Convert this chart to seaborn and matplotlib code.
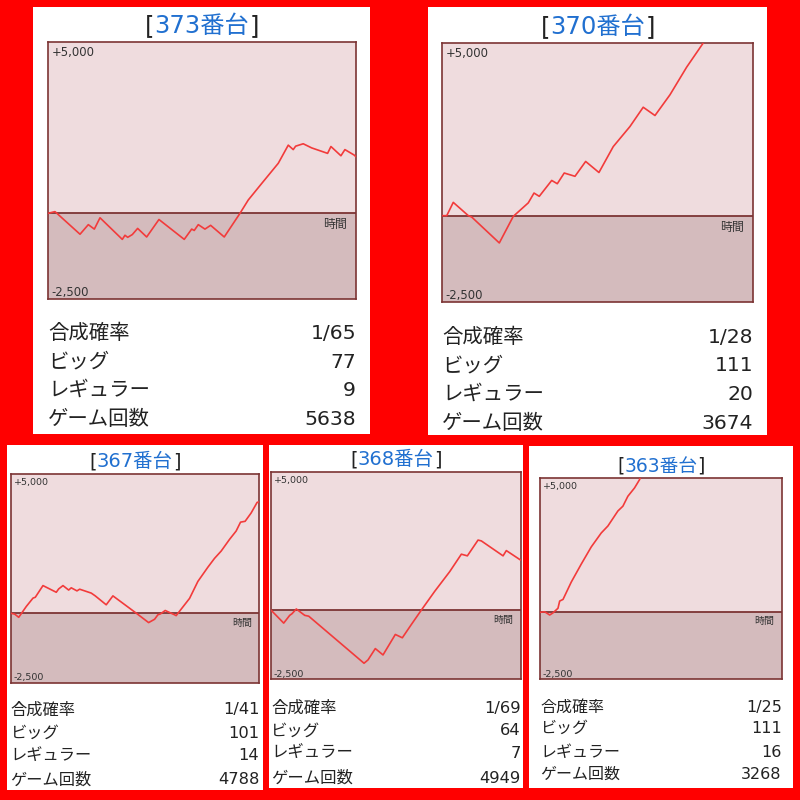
import matplotlib
matplotlib.use("Agg")
import matplotlib.pyplot as plt
import seaborn as sns
import pandas as pd

sns.set_theme(style="white")
plt.rcParams['font.family'] = ['DejaVu Sans', 'Noto Sans CJK JP']

# ---------------- data ----------------
machines = ["373", "370", "367", "368", "363"]
games = [5638, 3674, 4788, 4949, 3268]

g373 = [0, 128, 586, 738, 848, 952, 1360, 1409, 1459, 1543, 1641, 1806, 2031, 2494, 2630, 2677,
        2751, 2873, 2977, 3226, 3514, 3666, 3911, 4215, 4398, 4489, 4533, 4672, 4826, 5118, 5179,
        5362, 5435, 5605, 5638]
v373 = [0, 50, -610, -330, -460, -130, -760, -640, -700, -620, -440, -690, -180, -760, -460, -500,
        -330, -460, -350, -690, 0, 390, 870, 1460, 1990, 1860, 1960, 2030, 1910, 1750, 1950,
        1680, 1860, 1700, 1650]

g370 = [0, 56, 133, 311, 351, 677, 842, 1019, 1087, 1149, 1296, 1362, 1444, 1571, 1697, 1854,
        2023, 2220, 2377, 2516, 2693, 2890, 3086, 3130]
v370 = [0, 0, 385, 0, -40, -790, -20, 370, 655, 560, 1020, 925, 1235, 1140, 1570, 1250,
        2000, 2580, 3140, 2900, 3500, 4300, 5000, 5200]

g367 = [0, 81, 158, 304, 433, 477, 625, 881, 927, 1010, 1119, 1169, 1279, 1331, 1554, 1631,
        1842, 1971, 2419, 2658, 2773, 2836, 2888, 2977, 3158, 3188, 3285, 3446, 3606, 3798,
        3927, 4054, 4215, 4342, 4427, 4515, 4631, 4746, 4788]
v367 = [0, -36, -150, 240, 540, 570, 990, 750, 870, 990, 830, 910, 800, 860, 720, 620,
        300, 620, 0, -340, -220, -60, -25, 95, -60, -90, 145, 530, 1140, 1650,
        1970, 2230, 2650, 2950, 3270, 3300, 3600, 3980, 4000]

g368 = [0, 252, 371, 417, 502, 669, 748, 1845, 1924, 2069, 2222, 2466, 2605, 2784, 2982, 3248,
        3545, 3776, 3895, 4107, 4172, 4603, 4668, 4949]
v368 = [0, -470, -190, -130, 40, -190, -220, -1920, -1800, -1390, -1620, -880, -1000, -520, 0, 680,
        1390, 2020, 1960, 2530, 2500, 1960, 2150, 1810]

g363 = [0, 63, 131, 176, 243, 266, 311, 423, 558, 693, 828, 918, 1053, 1121, 1188, 1278, 1346, 1380]
v363 = [0, 20, -100, -20, 150, 420, 480, 1130, 1800, 2440, 2960, 3220, 3780, 3960, 4330, 4640, 4950, 5200]

stat_labels = ["合成確率", "ビッグ", "レギュラー", "ゲーム回数"]
stats373 = ["1/65", "77", "9", "5638"]
stats370 = ["1/28", "111", "20", "3674"]
stats367 = ["1/41", "101", "14", "4788"]
stats368 = ["1/69", "64", "7", "4949"]
stats363 = ["1/25", "111", "16", "3268"]

series_g = [g373, g370, g367, g368, g363]
series_v = [v373, v370, v367, v368, v363]
stats = [stats373, stats370, stats367, stats368, stats363]

# ---------------- layout (pixels, y from top) ----------------
W = H = 800
layout = [
    dict(card=(33, 7, 370, 434), plot=(48, 42, 356, 299), title=(202, 33.3), tsize=17.5,
         rows=[331.7, 360, 388, 417], ssize=14.7, lsize=8.4, jsize=8.6),
    dict(card=(428, 7, 767, 435), plot=(442, 43, 753, 302), title=(598, 34.3), tsize=17.5,
         rows=[335, 363.5, 392, 421.5], ssize=14.7, lsize=8.4, jsize=8.6),
    dict(card=(7, 445, 263, 790), plot=(10.5, 474, 259.3, 682.7), title=(135, 467.3), tsize=14,
         rows=[708.3, 731.7, 754.3, 778.3], ssize=11.7, lsize=6.8, jsize=7.2),
    dict(card=(269, 445, 523, 788), plot=(271, 471.7, 520.5, 679.3), title=(396, 465), tsize=14,
         rows=[706.7, 729.3, 751.7, 776.7], ssize=11.8, lsize=6.8, jsize=7.2),
    dict(card=(529, 446, 793, 788), plot=(540, 478.3, 781.7, 679.3), title=(661, 471.7), tsize=13.5,
         rows=[705.7, 727.3, 750.7, 773.3], ssize=11.5, lsize=6.8, jsize=7.2),
]

UPPER = "#efdcde"
LOWER = "#d4bbbd"
BORDER = "#7c3434"
LINE = "#f23b3b"
BLUE = "#2170d0"
DARK = "#222222"
LBL = "#333333"


def rect(l, t, r, b):
    return [l / W, 1 - b / H, (r - l) / W, (b - t) / H]


def pt2px(pt):
    return pt * 100 / 72.0


fig = plt.figure(figsize=(8, 8), dpi=100, facecolor="#ff0000")

for i, lay in enumerate(layout):
    # white card
    axc = fig.add_axes(rect(*lay["card"]))
    axc.set_facecolor("white")
    axc.set_xticks([])
    axc.set_yticks([])
    for s in axc.spines.values():
        s.set_visible(False)

    # title: "[" + blue number + "]"
    tx, ty = lay["title"]
    t_mid = fig.text(tx / W, 1 - ty / H, f"{machines[i]}番台", color=BLUE,
                     fontsize=lay["tsize"], ha="center", va="baseline")
    axc.annotate("[", xy=(0, 0), xycoords=t_mid, ha="right", va="bottom",
                 color=DARK, fontsize=lay["tsize"])
    axc.annotate("]", xy=(1, 0), xycoords=t_mid, ha="left", va="bottom",
                 color=DARK, fontsize=lay["tsize"])

    # stats rows
    pl, pt, pr, pb = lay["plot"]
    off = 0.37 * pt2px(lay["ssize"])
    for lab, val, yrow in zip(stat_labels, stats[i], lay["rows"]):
        yb = 1 - (yrow + off) / H
        fig.text(pl / W, yb, lab, ha="left", va="baseline",
                 fontsize=lay["ssize"], color=DARK)
        fig.text(pr / W, yb, val, ha="right", va="baseline",
                 fontsize=lay["ssize"], color=DARK)

    # plot
    ax = fig.add_axes(rect(*lay["plot"]))
    ax.axhspan(0, 5000, color=UPPER, zorder=0, lw=0)
    ax.axhspan(-2500, 0, color=LOWER, zorder=0, lw=0)
    ax.axhline(0, color=BORDER, lw=1.3, zorder=1)
    df = pd.DataFrame({"game": series_g[i], "medal": series_v[i]})
    sns.lineplot(data=df, x="game", y="medal", ax=ax, color=LINE, lw=1.2,
                 sort=False, estimator=None, zorder=3)
    ax.set_xlim(0, games[i])
    ax.set_ylim(-2500, 5000)
    ax.set_xticks([])
    ax.set_yticks([])
    ax.set_xlabel("")
    ax.set_ylabel("")
    for s in ax.spines.values():
        s.set_color(BORDER)
        s.set_linewidth(1.2)
        s.set_visible(True)
    ax.text(0.012, 0.958, "+5,000", transform=ax.transAxes, ha="left", va="center",
            fontsize=lay["lsize"], color=LBL)
    ax.text(0.012, 0.025, "-2,500", transform=ax.transAxes, ha="left", va="center",
            fontsize=lay["lsize"], color=LBL)
    ax.text(0.97, -340, "時間", transform=ax.get_yaxis_transform(), ha="right", va="center",
            fontsize=lay["jsize"], color=LBL)

fig.savefig("out.png", dpi=100, facecolor=fig.get_facecolor())
